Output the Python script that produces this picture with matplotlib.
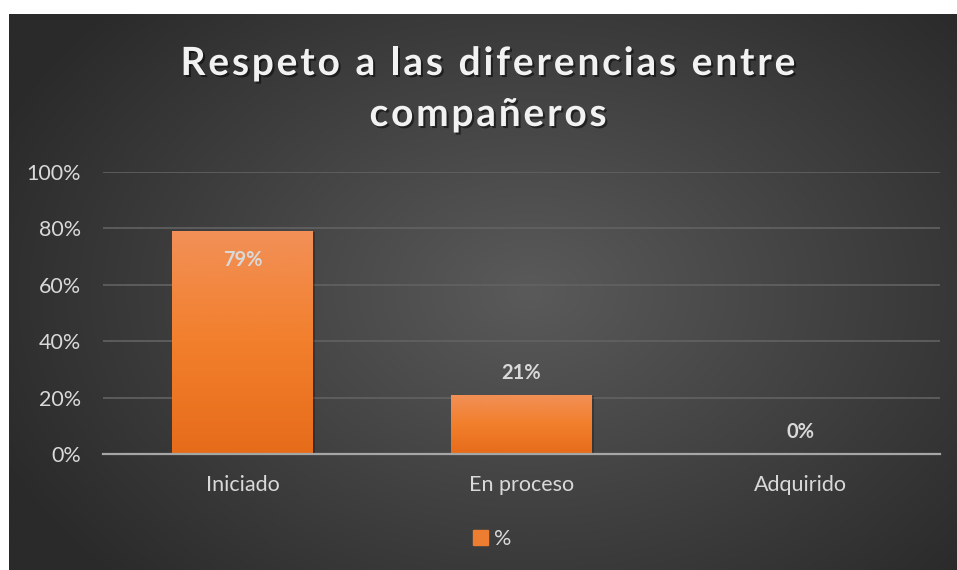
import numpy as np
import matplotlib
matplotlib.use('Agg')
from matplotlib import pyplot as plt
from matplotlib.colors import LinearSegmentedColormap
from matplotlib.patches import Rectangle
import matplotlib.patheffects as pe

plt.rcParams['font.family'] = ['Lato', 'DejaVu Sans']

categories = ['Iniciado', 'En proceso', 'Adquirido']
values = [0.79, 0.21, 0.0]
value_labels = ['79%', '21%', '0%']
label_inside = [True, False, False]
series_name = '%'
title_lines = ['Respeto a las diferencias entre', 'compañeros']
yticks = [0.0, 0.2, 0.4, 0.6, 0.8, 1.0]
ytick_labels = ['0%', '20%', '40%', '60%', '80%', '100%']

W, H = 957, 570
text_col = '#d9d9d9'
orange = '#ed7d31'

fig = plt.figure(figsize=(W / 100, H / 100), dpi=100)
fig.patch.set_facecolor('white')

# dark radial background of the chart area
bg = fig.add_axes([9 / W, 0, 948 / W, 556 / H])
bg.axis('off')
yy, xx = np.mgrid[0:1:300j, 0:1:500j]
r = np.sqrt(((xx - 0.55) / 0.62) ** 2 + ((yy - 0.5) / 0.75) ** 2)
r = np.clip(r, 0, 1)
bg_cmap = LinearSegmentedColormap.from_list('bg', ['#5a5a5a', '#2a2a2a'])
bg.imshow(r, cmap=bg_cmap, extent=[0, 1, 0, 1], aspect='auto', vmin=0, vmax=1)

ax = fig.add_axes([103 / W, 116 / H, 837 / W, 282 / H])
ax.patch.set_alpha(0)
x = np.arange(len(categories))
bars = ax.bar(x, values, width=0.505, color=orange, zorder=2)

bar_cmap = LinearSegmentedColormap.from_list('bar', ['#e66c1a', '#f27f2c', '#f29057'])
grad = np.linspace(0, 1, 100).reshape(-1, 1)
for b in bars:
    if b.get_height() <= 0:
        continue
    x0, y0 = b.get_x(), b.get_y()
    x1, y1 = x0 + b.get_width(), y0 + b.get_height()
    sh = Rectangle((x0 + 0.008, y0), b.get_width(), b.get_height() - 0.004,
                   color='black', alpha=0.25, zorder=1.5, lw=0)
    ax.add_patch(sh)
    im = ax.imshow(grad, cmap=bar_cmap, origin='lower', extent=[x0, x1, y0, y1],
                   aspect='auto', zorder=2.1)
    im.set_clip_path(b)

for i, v in enumerate(values):
    off = -21 if label_inside[i] else 16
    ax.annotate(value_labels[i], (x[i], v), xytext=(0, off), textcoords='offset points',
                ha='center', va='center', fontsize=14.5, fontweight='bold', color=text_col, zorder=4)

ax.set_xlim(-0.5, len(categories) - 0.5)
ax.set_ylim(0, 1)
ax.set_yticks(yticks)
ax.set_yticklabels(ytick_labels)
ax.set_xticks(x)
ax.set_xticklabels(categories)
ax.tick_params(length=0, colors=text_col, labelsize=15.5)
ax.tick_params(axis='y', pad=16)
ax.tick_params(axis='x', pad=15)
for s in ['top', 'right', 'left']:
    ax.spines[s].set_visible(False)
ax.spines['bottom'].set_color('#a6a6a6')
ax.spines['bottom'].set_linewidth(1.6)
ax.spines['bottom'].set_zorder(3)
ax.grid(axis='y', color='#626262', linewidth=1.2)
ax.set_axisbelow(True)

leg = fig.legend([Rectangle((0, 0), 1, 1, color=orange)], [series_name], loc='center',
                 bbox_to_anchor=(492 / W, (H - 539) / H), frameon=False, fontsize=15.5,
                 handlelength=0.7, handleheight=0.7, handletextpad=0.3, labelcolor=text_col)

# title with letter spacing
renderer = fig.canvas.get_renderer()


def spaced_title(s, cx, base_y, spacing, **kw):
    widths = []
    for ch in s:
        t = fig.text(0, 0, ch, **kw)
        w = t.get_window_extent(renderer).width
        if ch == ' ':
            w = kw['fontsize'] * 1.389 * 0.26
        t.remove()
        widths.append(w)
    total = sum(widths) + spacing * (len(s) - 1)
    px = cx - total / 2
    for ch, w in zip(s, widths):
        fig.text(px / W, (H - base_y) / H, ch, ha='left', va='baseline', **kw)
        px += w + spacing


title_kw = dict(fontsize=28, fontweight='bold', color='#f2f2f2',
                path_effects=[pe.SimplePatchShadow(offset=(1.5, -1.5), shadow_rgbFace='black', alpha=0.5),
                              pe.Normal()])
spaced_title(title_lines[0], 488, 75, 2.8, **title_kw)
spaced_title(title_lines[1], 488, 126, 2.8, **title_kw)

fig.savefig('out.png', dpi=100, facecolor=fig.get_facecolor())
